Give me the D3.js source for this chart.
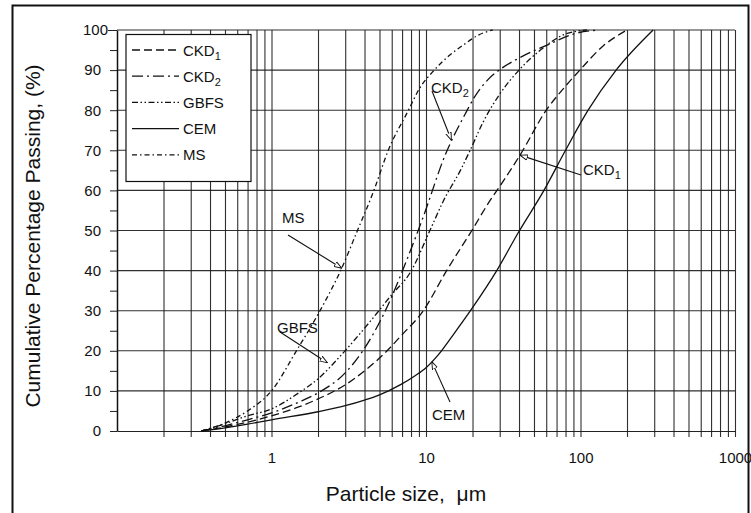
<!DOCTYPE html>
<html>
<head>
<meta charset="utf-8">
<script src="https://cdn.jsdelivr.net/npm/d3@7"></script>
<style>
  body { margin: 0; background: #fff; }
  text { font-family: "Liberation Sans", Arial, sans-serif; fill: #111; }
</style>
</head>
<body>
<div id="chart"></div>
<script>
// particle size (um) vs cumulative % passing
const CKD1 = [[0.35,0],[0.5,1],[0.7,2.2],[1,3.8],[1.5,6],[2,8],[3,11.5],[4,15],[5.6,20],[6.8,23.5],[9.6,30],[13.6,40],[19.8,50],[26,57.5],[30,61],[40.6,68.8],[60,80],[80,86],[99,90],[140,96],[200,100]]
const CKD2 = [[0.35,0],[0.5,1.3],[0.7,2.8],[1,4.5],[1.5,7.2],[2,9.5],[3,14.5],[3.9,20],[5.3,29],[6,33.5],[7.5,42.6],[9.6,53.4],[13.3,68.8],[17.9,79],[20.4,83],[25,87.5],[31,90.5],[40,93],[63,96.5],[90,99],[130,100]]
const GBFS = [[0.35,0],[0.5,1.8],[0.7,3.8],[1,5.5],[1.5,9.5],[2,13],[2.76,18.5],[3.5,23],[4.5,28],[6,34],[7.9,39.5],[10.6,50],[13,57.5],[16.7,65],[19.3,70],[23.4,77],[30,84],[40,90],[55,95],[80,99],[110,100]]
const CEM = [[0.35,0],[0.5,0.8],[0.7,1.7],[1,2.8],[2,4.8],[3,6.3],[4,7.7],[5,9],[6.8,11.5],[8.5,13.8],[10,15.8],[12,19],[15,24],[19.8,30.5],[28.7,40],[39.6,49.5],[58,60],[80,70],[112,80],[170,90],[295,100]]
const MS = [[0.35,0],[0.5,2],[0.7,5],[1,10],[1.45,20],[2.06,30],[2.8,40],[3.6,50],[4.6,60],[5.7,70],[7.7,80],[9.1,85.5],[11,89.5],[14,93.5],[17.5,96.3],[22,98.8],[27,100]]

const seriesNames = ['CKD1', 'CKD2', 'GBFS', 'CEM', 'MS']
const seriesData = [CKD1, CKD2, GBFS, CEM, MS]
const dashes = ['8,4', '11,4,2,4', '6,2.5,1.5,2.5,1.5,2.5', null, '5,3,1.5,3']

const xDecades = [0.1, 1, 10, 100]
const xLabels = [1, 10, 100, 1000]
const yTicks = d3.range(0, 101, 5)

// annotation labels: [text, subscript, label x, label y, line start, arrow tip (size, %)]
const notes = [
  ['MS', '', 282, 223, [288, 235], [2.85, 40.6]],
  ['GBFS', '', 277, 333, [280, 332], [2.3, 17]],
  ['CEM', '', 432, 420, [450, 402], [10.9, 17.3]],
  ['CKD', '1', 583, 175, [581, 175], [40.6, 68.8]],
  ['CKD', '2', 431, 93, [432, 91], [14.6, 72.5]]
]

const W = 751, H = 513
const pLeft = 117, pRight = 735, pTop = 30, pBottom = 431

const svg = d3.select('#chart').append('svg')
  .attr('width', W).attr('height', H)

// outer frame
svg.append('rect')
  .attr('x', 12.5).attr('y', 5.5)
  .attr('width', 736).attr('height', 530)
  .attr('fill', 'none').attr('stroke', '#111').attr('stroke-width', 2)

const x = d3.scaleLog().domain([0.1, 1000]).range([pLeft, pRight])
const y = d3.scaleLinear().domain([0, 100]).range([pBottom, pTop])

// vertical grid lines at every 1..9 of each decade
var xTickVals = []
xDecades.forEach(function (d) {
  d3.range(1, 10).forEach(function (k) { xTickVals.push(d * k) })
})
xTickVals.push(1000)

var xAxis = svg.append('g')
  .attr('transform', 'translate(0,' + pBottom + ')')
  .call(d3.axisBottom(x)
    .tickValues(xTickVals)
    .tickFormat(function (d) { return xLabels.some(function (v) { return Math.abs(v - d) < 1e-9 }) ? d3.format('d')(d) : '' })
    .tickSizeOuter(0))
xAxis.select('.domain').attr('stroke', '#222')
xAxis.selectAll('.tick line')
  .attr('y1', pTop - pBottom).attr('y2', 6)
  .attr('stroke', '#1a1a1a').attr('stroke-width', 1.1)
  .attr('stroke-opacity', function (d) { return d === 0.1 ? 0 : 0.9 })
xAxis.selectAll('.tick text')
  .attr('y', 21).style('font-size', '15px')
  .style('font-family', '"Liberation Sans", Arial, sans-serif').attr('fill', '#111')

// horizontal grid lines
svg.append('g')
  .selectAll('line')
  .data(d3.range(10, 101, 10))
  .enter().append('line')
  .attr('x1', pLeft).attr('x2', pRight)
  .attr('y1', function (d) { return y(d) }).attr('y2', function (d) { return y(d) })
  .attr('stroke', '#1a1a1a').attr('stroke-width', 1.1).attr('stroke-opacity', 0.9)

// y axis
var yAxis = svg.append('g')
  .attr('transform', 'translate(' + pLeft + ',0)')
  .call(d3.axisLeft(y)
    .tickValues(yTicks)
    .tickSize(7)
    .tickPadding(9)
    .tickFormat(function (d) { return d % 10 === 0 ? d : '' })
    .tickSizeOuter(0))
yAxis.select('.domain').attr('stroke', '#111').attr('stroke-width', 1.5)
yAxis.selectAll('.tick line').attr('stroke', '#222')
yAxis.selectAll('.tick text')
  .style('font-size', '15px')
  .style('font-family', '"Liberation Sans", Arial, sans-serif').attr('fill', '#111')
  .attr('x', function (d) { return d === 100 ? -9 : -16 })
yAxis.selectAll('.tick')
  .filter(function (d) { return d === 100 })
  .select('line').attr('x2', -9)

// axis titles
svg.append('text')
  .attr('x', 406).attr('y', 501)
  .style('text-anchor', 'middle')
  .style('font-size', '21px')
  .text('Particle size,\u00a0\u00a0\u03bcm')

svg.append('text')
  .attr('transform', 'translate(40,' + 236 + ') rotate(-90)')
  .style('text-anchor', 'middle')
  .style('font-size', '21px')
  .text('Cumulative Percentage Passing, (%)')

// curves
var line = d3.line()
  .x(function (d) { return x(d[0]) })
  .y(function (d) { return y(d[1]) })
  .curve(d3.curveMonotoneX)

svg.append('g')
  .selectAll('path')
  .data(seriesData)
  .enter().append('path')
  .attr('d', line)
  .attr('fill', 'none')
  .attr('stroke', '#111')
  .attr('stroke-width', 1.3)
  .attr('stroke-dasharray', function (d, i) { return dashes[i] })

// legend
svg.append('rect')
  .attr('x', 126).attr('y', 34.5)
  .attr('width', 125).attr('height', 147)
  .attr('fill', '#fff').attr('stroke', '#111').attr('stroke-width', 1.2)

var legend = svg.selectAll('.legend')
  .data(seriesNames)
  .enter().append('g')
  .attr('class', 'legend')
  .attr('transform', function (d, i) { return 'translate(0,' + (50 + i * 26.2) + ')' })

legend.append('line')
  .attr('x1', 132).attr('x2', 179)
  .attr('stroke', '#111').attr('stroke-width', 1.3)
  .attr('stroke-dasharray', function (d, i) { return dashes[i] })

var lt = legend.append('text')
  .attr('x', 183).attr('y', 5.5)
  .style('font-size', '15px')
lt.append('tspan').text(function (d) { return d.replace(/[12]$/, '') })
lt.append('tspan')
  .attr('dy', 4).style('font-size', '11px')
  .text(function (d) { var m = d.match(/[12]$/); return m ? m[0] : '' })

// annotation pointers
svg.append('defs').append('marker')
  .attr('id', 'tip')
  .attr('viewBox', '0 0 10 10')
  .attr('refX', 10).attr('refY', 5)
  .attr('markerWidth', 7).attr('markerHeight', 7)
  .attr('orient', 'auto')
  .append('path')
  .attr('d', 'M0,1.5 L10,5 L0,8.5 Z')
  .attr('fill', '#fff').attr('stroke', '#111').attr('stroke-width', 1.2)

var notesG = svg.append('g')
notes.forEach(function (n) {
  notesG.append('line')
    .attr('x1', n[4][0]).attr('y1', n[4][1])
    .attr('x2', x(n[5][0])).attr('y2', y(n[5][1]))
    .attr('stroke', '#111').attr('stroke-width', 1.1)
    .attr('marker-end', 'url(#tip)')
  var t = notesG.append('text')
    .attr('x', n[2]).attr('y', n[3])
    .style('font-size', '15px')
  t.append('tspan').text(n[0])
  if (n[1]) t.append('tspan').attr('dy', 4).style('font-size', '11px').text(n[1])
})
</script>
</body>
</html>
